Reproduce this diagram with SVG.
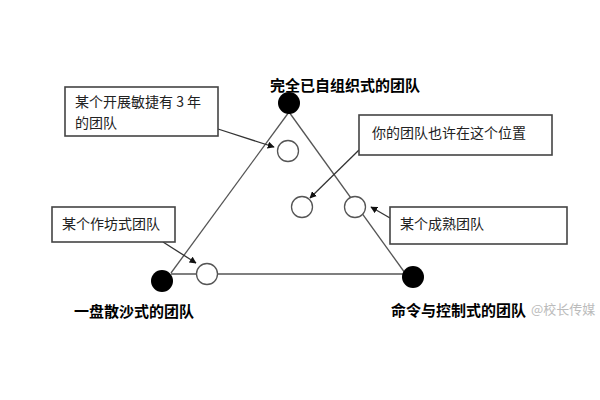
<svg xmlns="http://www.w3.org/2000/svg" width="600" height="400" viewBox="0 0 600 400">
<style>
.edge{stroke:#555;stroke-width:1.3;fill:none}
.arr{stroke:#333;stroke-width:1.3;fill:none;marker-end:url(#ah)}
.box{fill:#fff;stroke:#444;stroke-width:1.6}
.dot{fill:#000}
.ring{fill:#fff;stroke:#555;stroke-width:1.3}
.t{font-family:"Noto Sans CJK SC","Liberation Sans",sans-serif;font-size:14px;fill:#222}
.lb{font-family:"Noto Sans CJK SC","Liberation Sans",sans-serif;font-size:15px;font-weight:bold;fill:#000}
.wm{font-family:"Noto Sans CJK SC","Liberation Sans",sans-serif;font-size:13px;fill:#bbb}
</style>
<defs>
<marker id="ah" viewBox="0 0 10 10" refX="9" refY="5" markerWidth="7" markerHeight="7" orient="auto" markerUnits="userSpaceOnUse">
<path d="M0,0 L10,5 L0,10 z" fill="#111"/>
</marker>
</defs>
<rect width="600" height="400" fill="#fff"/>
<g id="connectors">
<line class="edge" x1="289" y1="112" x2="171" y2="273"/>
<line class="edge" x1="289" y1="112" x2="405" y2="273"/>
<line class="edge" x1="171" y1="274" x2="405" y2="274"/>
<line class="arr" x1="218" y1="129" x2="274" y2="147"/>
<line class="arr" x1="359" y1="150" x2="310" y2="198"/>
<line class="arr" x1="390" y1="218" x2="371" y2="207"/>
<line class="arr" x1="163" y1="242" x2="196" y2="263"/>
</g>
<g id="top">
<circle class="dot" cx="289" cy="103" r="11"/>
<text class="lb" x="270" y="91">完全已自组织式的团队</text>
</g>
<g id="left">
<circle class="dot" cx="162" cy="281" r="11"/>
<text class="lb" x="74" y="317">一盘散沙式的团队</text>
</g>
<g id="right">
<circle class="dot" cx="413" cy="277" r="11"/>
<text class="lb" x="391" y="316">命令与控制式的团队</text>
<text class="wm" x="531" y="314">@校长传媒</text>
</g>
<g id="p1"><circle class="ring" cx="288" cy="151" r="10.5"/></g>
<g id="p2"><circle class="ring" cx="302" cy="207" r="10.5"/></g>
<g id="p3"><circle class="ring" cx="355" cy="207" r="10.5"/></g>
<g id="p4"><circle class="ring" cx="207" cy="274" r="10.5"/></g>
<g id="box1">
<rect class="box" x="65" y="87" width="153" height="49"/>
<text class="t" x="75" y="107">某个开展敏捷有 3 年</text>
<text class="t" x="75" y="128">的团队</text>
</g>
<g id="box2">
<rect class="box" x="359" y="115" width="193" height="40"/>
<text class="t" x="372" y="138">你的团队也许在这个位置</text>
</g>
<g id="box3">
<rect class="box" x="390" y="207" width="177" height="37"/>
<text class="t" x="400" y="229">某个成熟团队</text>
</g>
<g id="box4">
<rect class="box" x="52" y="207" width="123" height="35"/>
<text class="t" x="62" y="229">某个作坊式团队</text>
</g>
</svg>
